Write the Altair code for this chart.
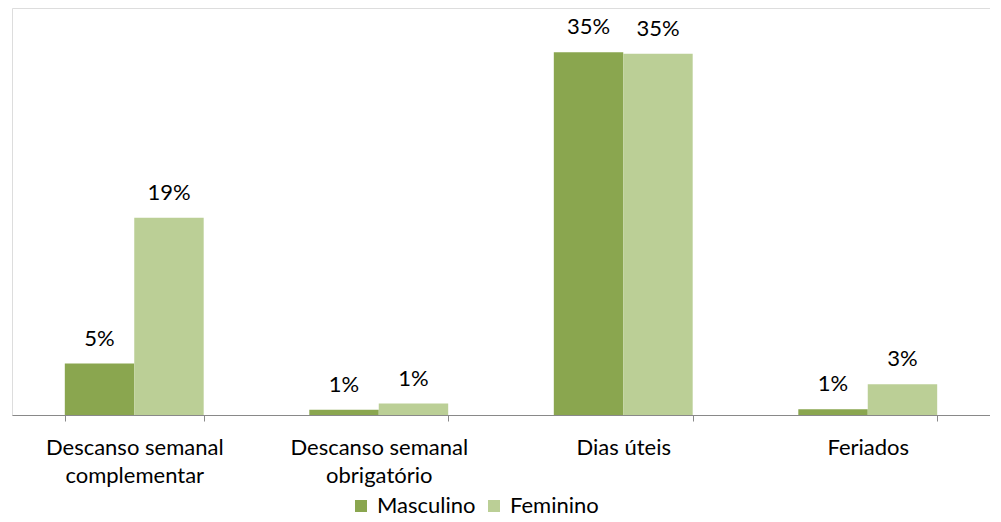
import altair as alt
import pandas as pd

categories = [
    "Descanso semanal complementar",
    "Descanso semanal obrigatório",
    "Dias úteis",
    "Feriados",
]
series = ["Masculino", "Feminino"]
masculino = [4.95, 0.5, 34.95, 0.55]
feminino = [19.0, 1.1, 34.8, 2.95]
masculino_labels = ["5%", "1%", "35%", "1%"]
feminino_labels = ["19%", "1%", "35%", "3%"]
colors = ["#8aa64f", "#bbcf96"]

rows = []
for i, c in enumerate(categories):
    rows.append({"categoria": c, "sexo": "Masculino", "valor": masculino[i], "rotulo": masculino_labels[i]})
    rows.append({"categoria": c, "sexo": "Feminino", "valor": feminino[i], "rotulo": feminino_labels[i]})
df = pd.DataFrame(rows)

FONT = "Lato"
FS = 22

x = alt.X(
    "categoria:N",
    sort=categories,
    title=None,
    scale=alt.Scale(paddingInner=0.432, paddingOuter=0.216),
    axis=alt.Axis(
        labelAngle=0,
        tickBand="extent",
        domainColor="#898989",
        tickColor="#898989",
        tickSize=6,
        labelFont=FONT,
        labelFontSize=FS,
        labelColor="#000000",
        labelPadding=16,
        labelLineHeight=28,
        labelExpr="length(datum.label) > 16 ? [slice(datum.label, 0, 16), slice(datum.label, 17)] : datum.label",
    ),
)
xo = alt.XOffset("sexo:N", sort=series, scale=alt.Scale(paddingInner=0, paddingOuter=0))
y = alt.Y("valor:Q", scale=alt.Scale(domain=[0, 39.2], nice=False, zero=True), axis=None)

base = alt.Chart(df)

bars = base.mark_bar().encode(
    x=x,
    xOffset=xo,
    y=y,
    color=alt.Color(
        "sexo:N",
        sort=series,
        scale=alt.Scale(domain=series, range=colors),
        legend=alt.Legend(
            title=None,
            orient="none",
            direction="horizontal",
            legendX=338,
            legendY=487,
            symbolType="square",
            symbolSize=144,
            symbolStrokeWidth=0,
            labelFont=FONT,
            labelFontSize=FS,
            labelColor="#000000",
            labelOffset=5,
            columnPadding=7,
        ),
    ),
)

texts = base.mark_text(baseline="alphabetic", dy=-18, font=FONT, fontSize=FS, color="#000000").encode(
    x=x,
    xOffset=xo,
    y=y,
    text="rotulo:N",
)

chart = (
    alt.layer(bars, texts)
    .properties(
        width=978,
        height=407,
        padding={"left": 4, "top": 0, "right": 0, "bottom": 106},
        autosize=alt.AutoSizeParams(type="none"),
    )
    .configure_view(stroke=None)
    .configure(background="white")
)

chart.save("out.html", embed_options={"renderer": "svg", "actions": False})
